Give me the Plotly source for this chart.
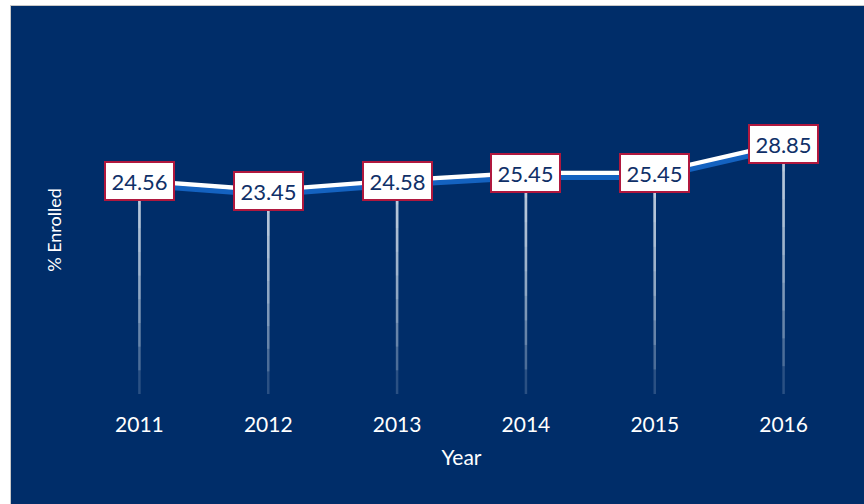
import plotly.graph_objects as go

years = ["2011", "2012", "2013", "2014", "2015", "2016"]
enrolled = [24.56, 23.45, 24.58, 25.45, 25.45, 28.85]
x_title = "Year"
y_title = "% Enrolled"

NAVY = "#002D69"
BLUE = "#1462C0"
CRIMSON = "#B0183E"
TEXT_NAVY = "#0F3068"
FONT = "Lato"

L, R, T, B = 75, 16, 66, 110
W, H = 864, 504
pw, ph = W - L - R, H - T - B

fig = go.Figure()

# fading drop lines (layered translucent error bars)
N = 9
for k in range(N):
    frac = k / N
    fig.add_trace(go.Scatter(
        x=years, y=enrolled, mode="markers",
        marker=dict(size=1, color="rgba(0,0,0,0)"),
        error_y=dict(type="data", symmetric=False, array=[0] * len(enrolled),
                     arrayminus=[v * (1 - frac) for v in enrolled],
                     color="rgba(225,232,245,0.19)", thickness=2.5, width=0),
        hoverinfo="skip", showlegend=False))

# blue shadow line (offset axis)
fig.add_trace(go.Scatter(x=years, y=enrolled, mode="lines", yaxis="y2",
                         line=dict(color=BLUE, width=5), showlegend=False,
                         hoverinfo="skip"))
# white main line
fig.add_trace(go.Scatter(x=years, y=enrolled, mode="lines",
                         line=dict(color="white", width=5), showlegend=False))

for i, v in enumerate(enrolled):
    fig.add_annotation(x=i, y=v, xref="x", yref="y", text=f"{v:.2f}", showarrow=False,
                       font=dict(family=FONT, size=22, color=TEXT_NAVY),
                       bgcolor="white", bordercolor=CRIMSON, borderwidth=2,
                       borderpad=5, width=57, height=26,
                       xanchor="center", yanchor="middle")

ymax = 37.8
shift = 0.5
fig.update_layout(
    width=W, height=H,
    margin=dict(l=L, r=R, t=T, b=B, autoexpand=False),
    paper_bgcolor="white", plot_bgcolor=NAVY,
    font=dict(family=FONT, color="white"),
    xaxis=dict(type="category", range=[-0.5, 5.5], showgrid=False, zeroline=False,
               showline=False, ticks="outside", ticklen=12, automargin=False,
               tickcolor="rgba(0,0,0,0)", tickfont=dict(size=21, color="white"),
               title=dict(text=x_title, font=dict(size=21, color="white"), standoff=15)),
    yaxis=dict(range=[0, ymax], showgrid=False, zeroline=False, showline=False,
               showticklabels=False, ticks="", automargin=False,
               title=dict(text=y_title, font=dict(size=18, color="white"), standoff=7)),
    yaxis2=dict(range=[shift, ymax + shift], overlaying="y", visible=False),
    shapes=[dict(type="rect", xref="paper", yref="paper", layer="below",
                 x0=(10.5 - L) / pw, x1=1 + (R + 5) / pw,
                 y0=-(B + 5) / ph, y1=1 + (T - 5.5) / ph,
                 fillcolor=NAVY, line=dict(color="#C8C8C8", width=1))],
)

fig.write_html("out.html", config={"displayModeBar": False},
               post_script="document.body.style.margin='0';document.body.style.overflow='hidden';")
